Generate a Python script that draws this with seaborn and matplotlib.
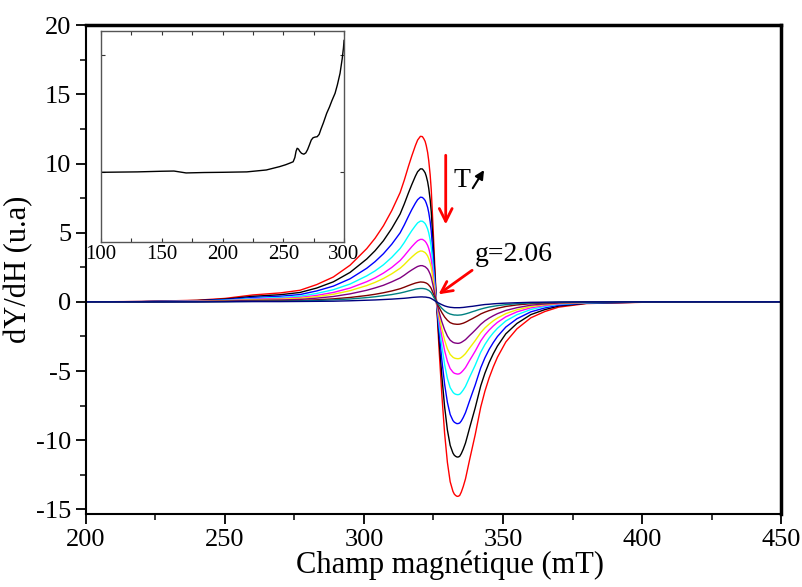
import matplotlib
matplotlib.use('Agg')
import matplotlib.pyplot as plt
import numpy as np
import pandas as pd
import seaborn as sns

# Champ magnétique (mT) : lobe positif puis lobe négatif
x_pos = [200, 220, 240, 250, 260, 270, 277, 283, 289, 295, 301, 304, 307, 310, 313, 314.5,
         316, 317.2, 318.5, 319.3, 320.3, 321.0, 321.5, 322.0, 322.4, 322.9, 323.3, 323.8,
         324.2, 324.8, 325.4, 326]
x_neg = [327, 328, 329, 330, 331, 332, 332.5, 333, 333.4, 333.8, 334.4, 335, 335.7, 336.5,
         337.2, 338, 339, 340, 341, 342, 343.5, 345, 346.5, 348, 351, 355, 360, 365, 370,
         380, 400, 450]

# dY/dH, une courbe par température
red_p = [0.0, 0.03, 0.12, 0.25, 0.5, 0.65, 0.84, 1.25, 1.8, 2.65, 3.85, 4.6, 5.5, 6.6, 7.9, 8.8, 9.8, 10.55, 11.3, 11.7, 11.97, 11.95, 11.8, 11.6, 11.3, 10.8, 10.2, 9.2, 8.1, 5.6, 2.9, 0.3]
red_n = [-3.4, -6.7, -9.5, -11.6, -13.0, -13.7, -13.9, -14.0, -14.05, -14.06, -14.0, -13.75, -13.35, -12.8, -12.15, -11.4, -10.5, -9.6, -8.6, -7.6, -6.45, -5.5, -4.7, -4.0, -2.9, -1.95, -1.15, -0.7, -0.38, -0.12, -0.03, 0.0]
black_p = [0.0, 0.02, 0.1, 0.2, 0.4, 0.52, 0.68, 1.0, 1.45, 2.13, 3.1, 3.7, 4.42, 5.31, 6.35, 7.08, 7.88, 8.48, 9.09, 9.41, 9.62, 9.61, 9.49, 9.33, 9.09, 8.68, 8.2, 7.4, 6.51, 4.5, 2.33, 0.24]
black_n = [-2.71, -5.35, -7.58, -9.26, -10.37, -10.93, -11.09, -11.17, -11.21, -11.22, -11.17, -10.97, -10.65, -10.21, -9.7, -9.1, -8.38, -7.66, -6.86, -6.06, -5.15, -4.39, -3.75, -3.19, -2.31, -1.56, -0.92, -0.56, -0.3, -0.1, -0.02, 0.0]
blue_p = [0.0, 0.02, 0.08, 0.16, 0.32, 0.41, 0.53, 0.79, 1.14, 1.67, 2.43, 2.91, 3.48, 4.17, 4.99, 5.56, 6.19, 6.67, 7.14, 7.39, 7.57, 7.55, 7.46, 7.33, 7.14, 6.83, 6.45, 5.81, 5.12, 3.54, 1.83, 0.19]
blue_n = [-2.13, -4.19, -5.95, -7.26, -8.14, -8.58, -8.7, -8.76, -8.8, -8.8, -8.76, -8.61, -8.36, -8.01, -7.61, -7.14, -6.57, -6.01, -5.38, -4.76, -4.04, -3.44, -2.94, -2.5, -1.82, -1.22, -0.72, -0.44, -0.24, -0.08, -0.02, 0.0]
cyan_p = [0.0, 0.01, 0.06, 0.12, 0.24, 0.32, 0.41, 0.61, 0.88, 1.29, 1.88, 2.24, 2.68, 3.22, 3.86, 4.29, 4.78, 5.15, 5.51, 5.71, 5.84, 5.83, 5.76, 5.66, 5.51, 5.27, 4.98, 4.49, 3.95, 2.73, 1.42, 0.15]
cyan_n = [-1.62, -3.2, -4.53, -5.53, -6.2, -6.53, -6.63, -6.68, -6.7, -6.71, -6.68, -6.56, -6.37, -6.11, -5.8, -5.44, -5.01, -4.58, -4.1, -3.63, -3.08, -2.62, -2.24, -1.91, -1.38, -0.93, -0.55, -0.33, -0.18, -0.06, -0.01, 0.0]
magenta_p = [0.0, 0.01, 0.05, 0.09, 0.19, 0.25, 0.32, 0.47, 0.68, 1.0, 1.46, 1.74, 2.08, 2.49, 2.99, 3.33, 3.7, 3.99, 4.27, 4.42, 4.52, 4.52, 4.46, 4.38, 4.27, 4.08, 3.86, 3.48, 3.06, 2.12, 1.1, 0.11]
magenta_n = [-1.26, -2.49, -3.52, -4.3, -4.82, -5.08, -5.16, -5.19, -5.21, -5.22, -5.19, -5.1, -4.95, -4.75, -4.51, -4.23, -3.9, -3.56, -3.19, -2.82, -2.39, -2.04, -1.74, -1.48, -1.08, -0.72, -0.43, -0.26, -0.14, -0.04, -0.01, 0.0]
yellow_p = [0.0, 0.01, 0.04, 0.08, 0.15, 0.2, 0.26, 0.38, 0.55, 0.81, 1.18, 1.41, 1.69, 2.03, 2.43, 2.7, 3.01, 3.24, 3.47, 3.59, 3.68, 3.67, 3.62, 3.56, 3.47, 3.32, 3.13, 2.82, 2.49, 1.72, 0.89, 0.09]
yellow_n = [-0.99, -1.96, -2.77, -3.39, -3.8, -4.0, -4.06, -4.09, -4.1, -4.11, -4.09, -4.02, -3.9, -3.74, -3.55, -3.33, -3.07, -2.8, -2.51, -2.22, -1.88, -1.61, -1.37, -1.17, -0.85, -0.57, -0.34, -0.2, -0.11, -0.04, -0.01, 0.0]
purple_p = [0.0, 0.01, 0.03, 0.05, 0.11, 0.14, 0.18, 0.27, 0.39, 0.58, 0.84, 1.01, 1.2, 1.45, 1.73, 1.93, 2.15, 2.31, 2.47, 2.56, 2.62, 2.62, 2.58, 2.54, 2.47, 2.37, 2.23, 2.01, 1.77, 1.23, 0.64, 0.07]
purple_n = [-0.72, -1.43, -2.02, -2.47, -2.77, -2.92, -2.96, -2.98, -2.99, -3.0, -2.98, -2.93, -2.84, -2.73, -2.59, -2.43, -2.24, -2.04, -1.83, -1.62, -1.37, -1.17, -1.0, -0.85, -0.62, -0.42, -0.24, -0.15, -0.08, -0.03, -0.01, 0.0]
wine_p = [0.0, 0.0, 0.01, 0.03, 0.06, 0.08, 0.1, 0.15, 0.22, 0.32, 0.46, 0.55, 0.66, 0.79, 0.95, 1.06, 1.18, 1.27, 1.36, 1.4, 1.44, 1.43, 1.42, 1.39, 1.36, 1.3, 1.22, 1.1, 0.97, 0.67, 0.35, 0.04]
wine_n = [-0.39, -0.77, -1.09, -1.33, -1.5, -1.58, -1.6, -1.61, -1.62, -1.62, -1.61, -1.58, -1.54, -1.47, -1.4, -1.31, -1.21, -1.1, -0.99, -0.87, -0.74, -0.63, -0.54, -0.46, -0.33, -0.22, -0.13, -0.08, -0.04, -0.01, 0.0, 0.0]
teal_p = [0.0, 0.0, 0.01, 0.02, 0.04, 0.05, 0.07, 0.1, 0.15, 0.21, 0.31, 0.37, 0.45, 0.53, 0.64, 0.71, 0.79, 0.85, 0.92, 0.95, 0.97, 0.97, 0.96, 0.94, 0.92, 0.87, 0.83, 0.75, 0.66, 0.45, 0.23, 0.02]
teal_n = [-0.23, -0.46, -0.65, -0.79, -0.88, -0.93, -0.95, -0.95, -0.96, -0.96, -0.95, -0.94, -0.91, -0.87, -0.83, -0.78, -0.71, -0.65, -0.58, -0.52, -0.44, -0.37, -0.32, -0.27, -0.2, -0.13, -0.08, -0.05, -0.03, -0.01, 0.0, 0.0]
navy_p = [0.0, 0.0, 0.0, 0.01, 0.02, 0.02, 0.03, 0.04, 0.05, 0.08, 0.12, 0.14, 0.17, 0.2, 0.24, 0.26, 0.29, 0.32, 0.34, 0.35, 0.36, 0.36, 0.35, 0.35, 0.34, 0.32, 0.31, 0.28, 0.24, 0.17, 0.09, 0.01]
navy_n = [-0.1, -0.2, -0.29, -0.35, -0.39, -0.41, -0.42, -0.42, -0.42, -0.42, -0.42, -0.41, -0.4, -0.38, -0.36, -0.34, -0.32, -0.29, -0.26, -0.23, -0.19, -0.17, -0.14, -0.12, -0.09, -0.06, -0.03, -0.02, -0.01, 0.0, 0.0, 0.0]

courbes = ['red', 'black', 'blue', 'cyan', 'magenta', 'yellow', 'purple', 'wine', 'teal', 'navy']
couleurs = ['#ff0000', '#000000', '#0000ff', '#00ffff', '#ff00ff', '#f0f000',
            '#800080', '#800000', '#008080', '#000080']
valeurs = {
    'red': red_p + red_n, 'black': black_p + black_n, 'blue': blue_p + blue_n,
    'cyan': cyan_p + cyan_n, 'magenta': magenta_p + magenta_n,
    'yellow': yellow_p + yellow_n, 'purple': purple_p + purple_n,
    'wine': wine_p + wine_n, 'teal': teal_p + teal_n, 'navy': navy_p + navy_n,
}

# Encart : courbe noire 100-300
ins_x = [100, 130, 150, 160, 170, 185, 200, 220, 236, 247, 252, 256, 258.1, 259.5, 260.5,
         261.4, 262.5, 263.5, 265, 266.9, 268.5, 270, 271.5, 273, 274.5, 276, 277.9, 279.5,
         281, 283, 285.7, 288, 290, 292.6, 294.5, 296.7, 298.5, 299.5, 300]
ins_y = [0.33, 0.332, 0.335, 0.336, 0.327, 0.329, 0.330, 0.332, 0.341, 0.357, 0.366, 0.375,
         0.38, 0.40, 0.43, 0.444, 0.44, 0.43, 0.42, 0.416, 0.422, 0.438, 0.46, 0.483, 0.494,
         0.497, 0.499, 0.51, 0.535, 0.565, 0.61, 0.64, 0.67, 0.705, 0.745, 0.80, 0.87, 0.92, 0.957]

x_all = x_pos + x_neg
df = pd.DataFrame({
    'champ': x_all * len(courbes),
    'signal': sum([valeurs[c] for c in courbes], []),
    'courbe': np.repeat(courbes, len(x_all)),
})

sns.set_theme(style='ticks')
plt.rcParams['font.family'] = ['Liberation Serif', 'DejaVu Serif']
plt.rcParams['axes.unicode_minus'] = False
plt.rcParams['text.color'] = 'black'
plt.rcParams['axes.labelcolor'] = 'black'
plt.rcParams['xtick.color'] = 'black'
plt.rcParams['ytick.color'] = 'black'

fig = plt.figure(figsize=(8.02, 5.87), dpi=100)
ax = fig.add_axes([0.107, 0.124, 0.867, 0.833])

sns.lineplot(data=df, x='champ', y='signal', hue='courbe', hue_order=courbes,
             palette=couleurs, legend=False, linewidth=1.0, errorbar=None, ax=ax)

ax.set_xlim(200, 450)
ax.set_ylim(-15.35, 20)
ax.set_xticks(np.arange(200, 451, 50))
ax.set_xticks(np.arange(225, 450, 50), minor=True)
ax.set_yticks(np.arange(-15, 21, 5))
ax.set_yticks(np.arange(-12.5, 20, 5), minor=True)
ax.tick_params(axis='both', which='major', direction='out', length=7, width=1.3,
               labelsize=19)
ax.tick_params(axis='both', which='minor', direction='out', length=4, width=1.1)
ax.set_xlabel('Champ magnétique (mT)', fontsize=22, labelpad=0)
ax.xaxis.set_label_coords(0.524, -0.075)
ax.set_ylabel('dY/dH (u.a)', fontsize=22, labelpad=2)
for s in ['left', 'bottom']:
    ax.spines[s].set_linewidth(1.5)
for s in ['top', 'right']:
    ax.spines[s].set_linewidth(2.5)
for s in ax.spines.values():
    s.set_color('black')

# flèches et textes
ax.annotate('', xy=(329.4, 5.4), xytext=(329.4, 10.8),
            arrowprops=dict(arrowstyle='->', color='red', lw=2, mutation_scale=23))
ax.text(335.2, 8.76, 'T', ha='center', va='center', fontsize=20)
ax.annotate('', xy=(343.7, 9.7), xytext=(338.6, 8.05),
            arrowprops=dict(arrowstyle='-|>', color='black', lw=1.5, mutation_scale=13))
ax.text(340.0, 3.4, 'g=2.06', ha='left', va='center', fontsize=20)
ax.annotate('', xy=(326.0, 0.43), xytext=(339.7, 2.4),
            arrowprops=dict(arrowstyle='->', color='red', lw=2, mutation_scale=20))

# encart
axin = fig.add_axes([0.126, 0.588, 0.303, 0.359])
sns.lineplot(x=ins_x, y=ins_y, color='black', linewidth=1.0, ax=axin)
axin.set_xlim(100, 300)
axin.set_ylim(0, 1)
axin.set_xticks(np.arange(100, 301, 50))
axin.set_xticks(np.arange(125, 300, 50), minor=True)
axin.set_yticks([0.33, 0.886])
axin.set_yticklabels([])
axin.tick_params(axis='both', which='both', direction='in', top=True, right=True,
                 length=3, width=0.8, labelsize=15, pad=2, color='#333333')
for s in axin.spines.values():
    s.set_color('#555555')
    s.set_linewidth(1.0)

fig.savefig('out.png', dpi=100)
